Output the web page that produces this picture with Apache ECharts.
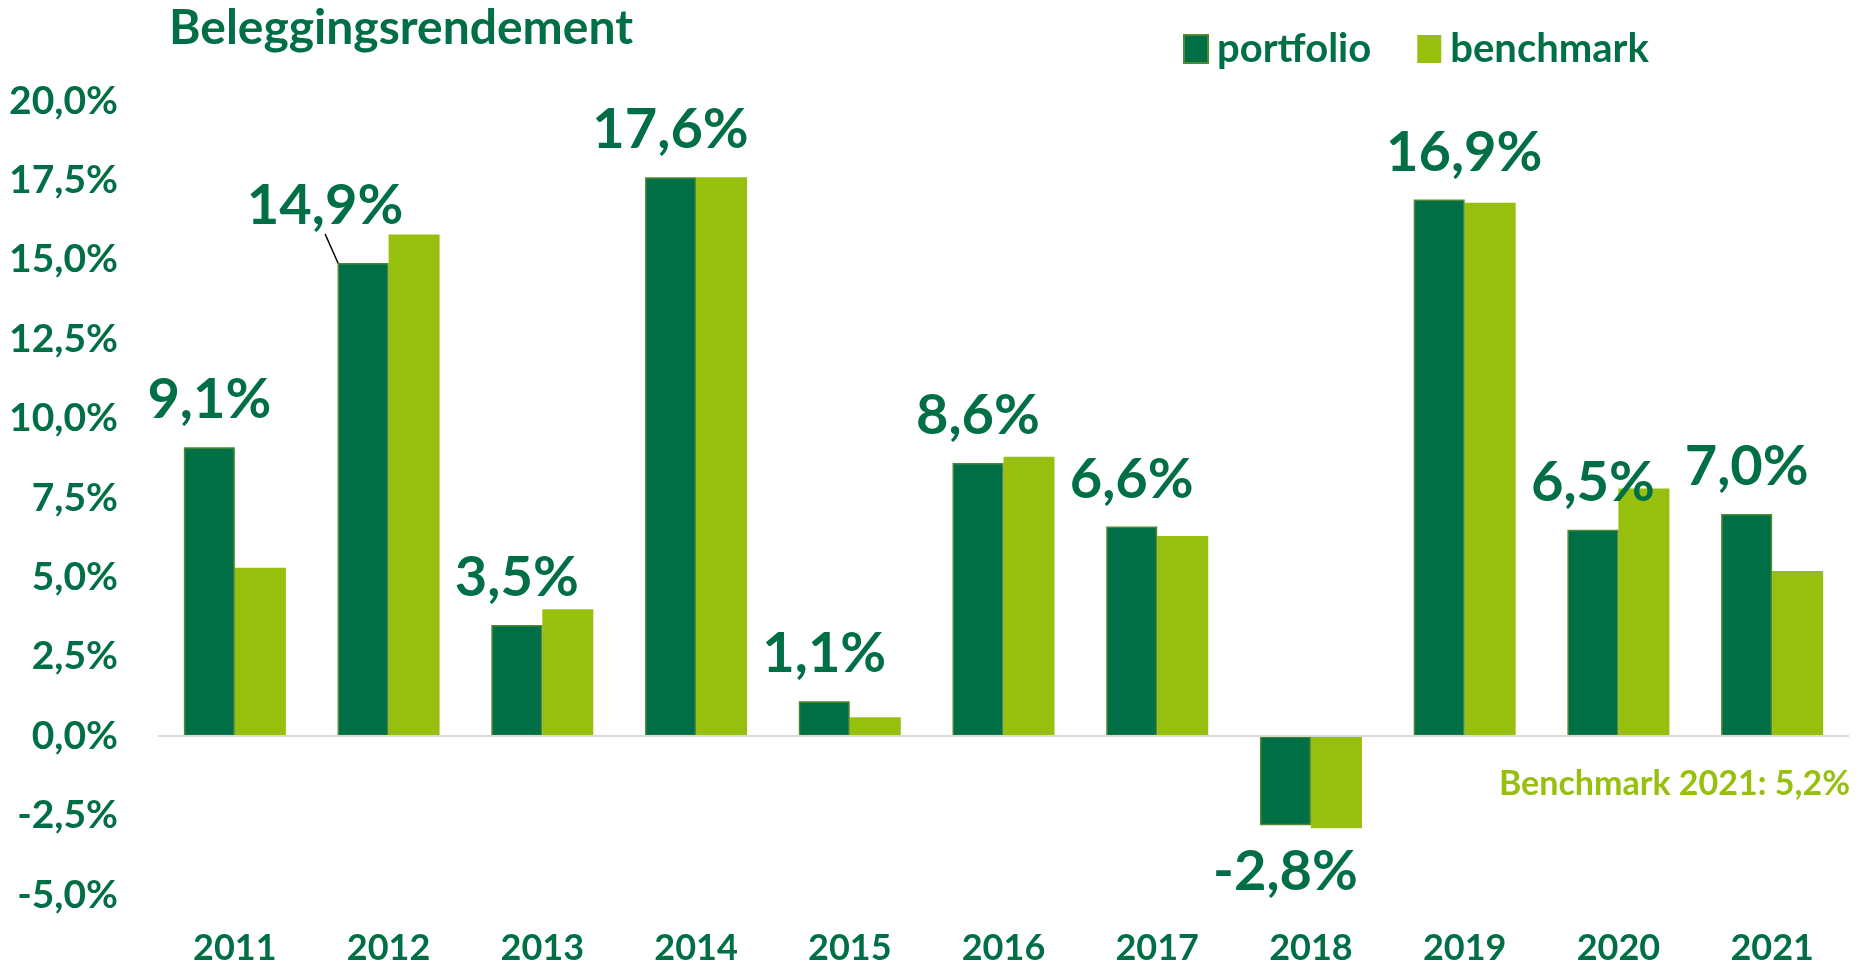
<!DOCTYPE html>
<html>
<head>
    <meta charset="utf-8">
    <title>Beleggingsrendement</title>
    <script src="https://cdn.jsdelivr.net/npm/echarts@6/dist/echarts.min.js"></script>
    <style>
        html, body { margin: 0; padding: 0; background: #fff; }
        #chart { width: 1865px; height: 966px; }
    </style>
</head>
<body>
<div id="chart"></div>
<script type="text/javascript">
    // data
    var years = ['2011', '2012', '2013', '2014', '2015', '2016', '2017', '2018', '2019', '2020', '2021'];
    var portfolio = [9.1, 14.9, 3.5, 17.6, 1.1, 8.6, 6.6, -2.8, 16.9, 6.5, 7.0];
    var benchmark = [5.3, 15.8, 4.0, 17.6, 0.6, 8.8, 6.3, -2.9, 16.8, 7.8, 5.2];
    var yMin = -5, yMax = 20, yStep = 2.5;
    var noteText = 'Benchmark 2021: 5,2%';

    var dark = '#006f45';
    var light = '#97c00e';
    var font = 'Lato, "Open Sans", sans-serif';

    function pct(v) {
        return v.toFixed(1).replace('.', ',') + '%';
    }

    var chart = echarts.init(document.getElementById('chart'));

    var portfolioData = portfolio.map(function (v, i) {
        var item = {value: v};
        if (v < 0) {
            item.label = {position: 'bottom'};
        }
        if (i === 1) {
            item.labelLine = {show: true, lineStyle: {color: '#000', width: 1.5}};
        }
        return item;
    });

    chart.setOption({
        animation: false,
        title: {
            text: 'Beleggingsrendement',
            left: 164,
            top: 0,
            textStyle: {color: dark, fontFamily: font, fontWeight: 'bold', fontSize: 48}
        },
        legend: {
            data: ['portfolio', 'benchmark'],
            left: 1178,
            top: 24,
            icon: 'rect',
            itemWidth: 24,
            itemHeight: 28,
            itemGap: 46,
            textStyle: {color: dark, fontFamily: font, fontWeight: 'bold', fontSize: 40, padding: [0, 0, 0, 4]}
        },
        grid: {left: 158, right: 16, top: 101, bottom: 71, containLabel: false},
        xAxis: {
            type: 'category',
            data: years,
            axisLine: {show: false, onZero: false},
            axisTick: {show: false},
            axisLabel: {color: dark, fontFamily: font, fontWeight: 'bold', fontSize: 36, margin: 35}
        },
        yAxis: {
            type: 'value',
            min: yMin,
            max: yMax,
            interval: yStep,
            splitLine: {show: false},
            axisLine: {show: false},
            axisTick: {show: false},
            axisLabel: {
                color: dark, fontFamily: font, fontWeight: 'bold', fontSize: 39, margin: 40,
                formatter: function (v) { return pct(v); }
            }
        },
        graphic: [{
            type: 'text',
            right: 15,
            top: 767,
            style: {text: noteText, fill: light, font: 'bold 34px ' + font}
        }],
        series: [{
            name: 'portfolio',
            type: 'bar',
            data: portfolioData,
            barWidth: 51,
            barGap: '0%',
            itemStyle: {color: dark, borderColor: '#4f8a32', borderWidth: 1.5},
            label: {
                show: true,
                position: 'top',
                distance: 19,
                color: dark,
                fontFamily: font,
                fontWeight: 'bold',
                fontSize: 56,
                formatter: function (p) { return pct(p.value); }
            },
            labelLayout: function (p) {
                if (p.dataIndex === 1) return {dx: -38, dy: -10};
                if (p.dataIndex === 8) return {dx: 25};
                return {};
            },
            markLine: {
                silent: true,
                symbol: 'none',
                label: {show: false},
                lineStyle: {color: '#d9d9d9', type: 'solid', width: 2},
                data: [{yAxis: 0}]
            },
            z: 3
        }, {
            name: 'benchmark',
            type: 'bar',
            data: benchmark,
            barWidth: 51,
            barGap: '0%',
            itemStyle: {color: light},
            z: 2
        }]
    });
</script>
</body>
</html>
